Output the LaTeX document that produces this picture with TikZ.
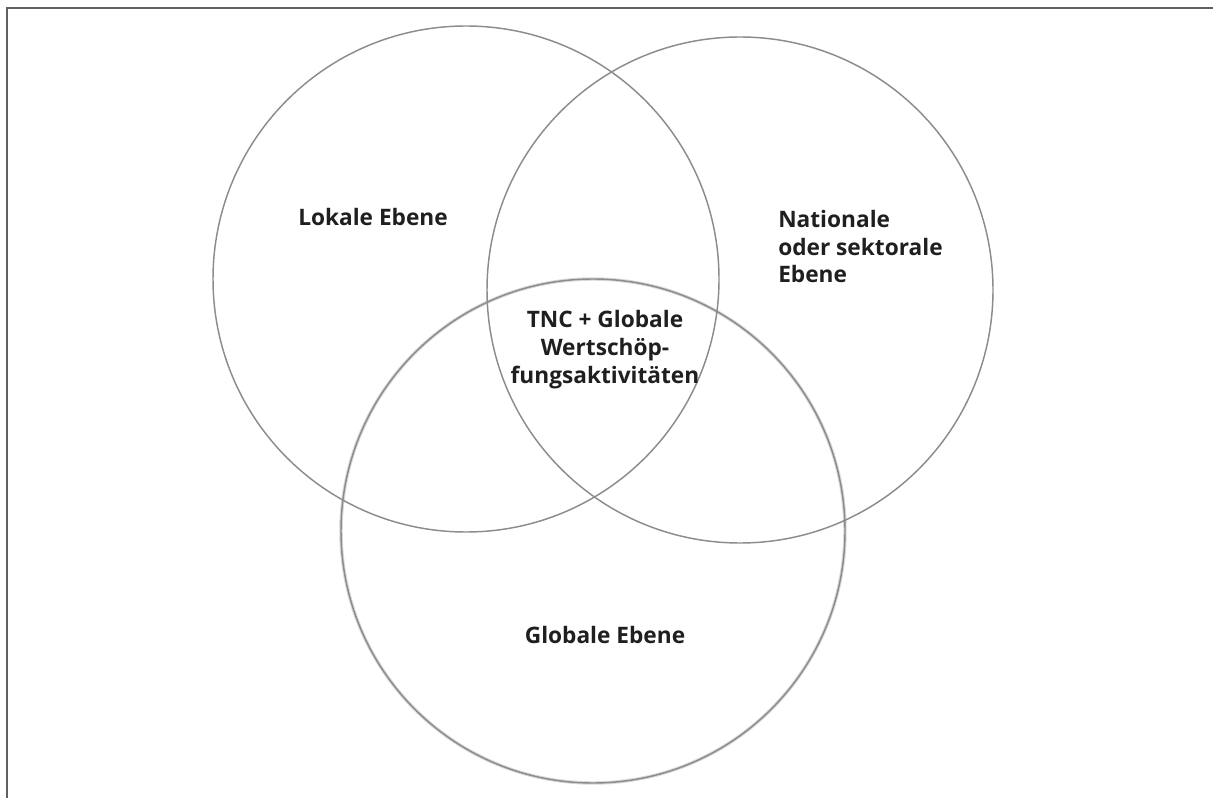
\documentclass[tikz,border=0pt]{standalone}
\usepackage{fontspec}
\setmainfont{Open Sans}
\usepackage{tikz}

\begin{document}
\begin{tikzpicture}[x=0.75pt,y=-0.75pt,
  ring/.style={draw=black!45, line width=1.1pt},
  label/.style={font=\bfseries\fontsize{17}{20.8}\selectfont, text=black!88, inner sep=0pt}]
\useasboundingbox (0,0) rectangle (1213,798);
% Rahmen
\draw[black!62, line width=1.5pt] (7,798) -- (7,8) -- (1213,8);
% Mittelpunkte
\coordinate (lokal) at (466,279);
\coordinate (national) at (740,290);
\coordinate (global) at (593,531);
% Kreise
\draw[black!15, line width=2.6pt] (global) circle (252);
\draw[ring] (global) circle (252);
\draw[ring] (lokal) circle (253);
\draw[ring] (national) circle (253);
% Texte
\node[label, anchor=base] (tlokal) at (373,226) {Lokale Ebene};
\node[label, anchor=base west, align=left] (tnational) at (778,283) {Nationale\\oder sektorale\\Ebene};
\node[label, anchor=base, align=center] (tmitte) at (605,383) {TNC + Globale\\Wertschöp-\\fungsaktivitäten};
\node[label, anchor=base] (tglobal) at (605,643) {Globale Ebene};
\end{tikzpicture}
\end{document}
